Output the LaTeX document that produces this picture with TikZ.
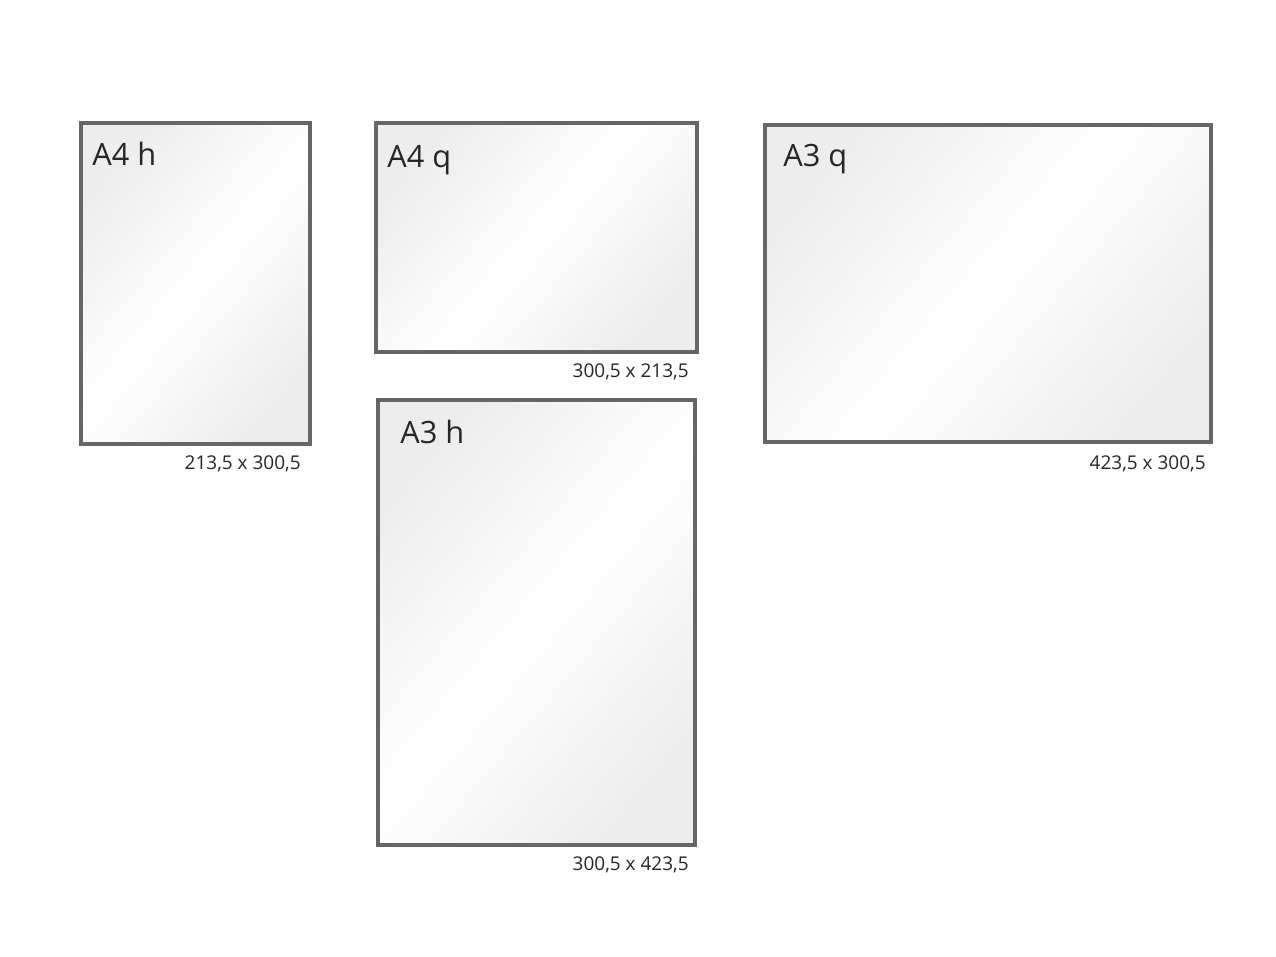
\documentclass[tikz,border=0pt]{standalone}
\usepackage{fontspec}
\setmainfont{Open Sans}
\usetikzlibrary{positioning}
\definecolor{framegray}{HTML}{666666}
\definecolor{textgray}{HTML}{262626}

\begin{document}
\begin{tikzpicture}[node distance=1cm,
	sheet/.style={rectangle, draw=framegray, line width=2.1pt, inner sep=0pt, outer sep=0pt,
		top color=gray!14, bottom color=gray!14, middle color=white, shading angle=50},
	name text/.style={inner sep=0pt, text=textgray, font=\fontsize{17.5}{20}\selectfont},
	size text/.style={inner sep=0pt, text=textgray, font=\fontsize{10.8}{12}\selectfont}]
	\useasboundingbox (0,0) rectangle (25.52,-19.14);

	% sheets
	\node[sheet, minimum width=4.58cm, minimum height=6.42cm] (A4h) at (3.91,-5.67) {};
	\node[sheet, minimum width=6.42cm, minimum height=4.58cm] (A4q) at (10.73,-4.75) {};
	\node[sheet, minimum width=8.92cm, minimum height=6.34cm] (A3q) at (19.76,-5.67) {};
	\node[sheet, minimum width=6.34cm, minimum height=8.90cm] (A3h) at (10.73,-12.45) {};

	% names
	\node[name text, below right=0.38cm and 0.22cm of A4h.north west] (A4hname) {A4 h};
	\node[name text, below right=0.44cm and 0.22cm of A4q.north west] (A4qname) {A4 q};
	\node[name text, below right=0.38cm and 0.36cm of A3q.north west] (A3qname) {A3 q};
	\node[name text, below right=0.40cm and 0.44cm of A3h.north west] (A3hname) {A3 h};

	% sizes
	\node[size text, below left=0.22cm and 0.18cm of A4h.south east] (A4hsize) {213,5 x 300,5};
	\node[size text, below left=0.22cm and 0.16cm of A4q.south east] (A4qsize) {300,5 x 213,5};
	\node[size text, below left=0.26cm and 0.10cm of A3q.south east] (A3qsize) {423,5 x 300,5};
	\node[size text, below left=0.22cm and 0.12cm of A3h.south east] (A3hsize) {300,5 x 423,5};
\end{tikzpicture}
\end{document}
